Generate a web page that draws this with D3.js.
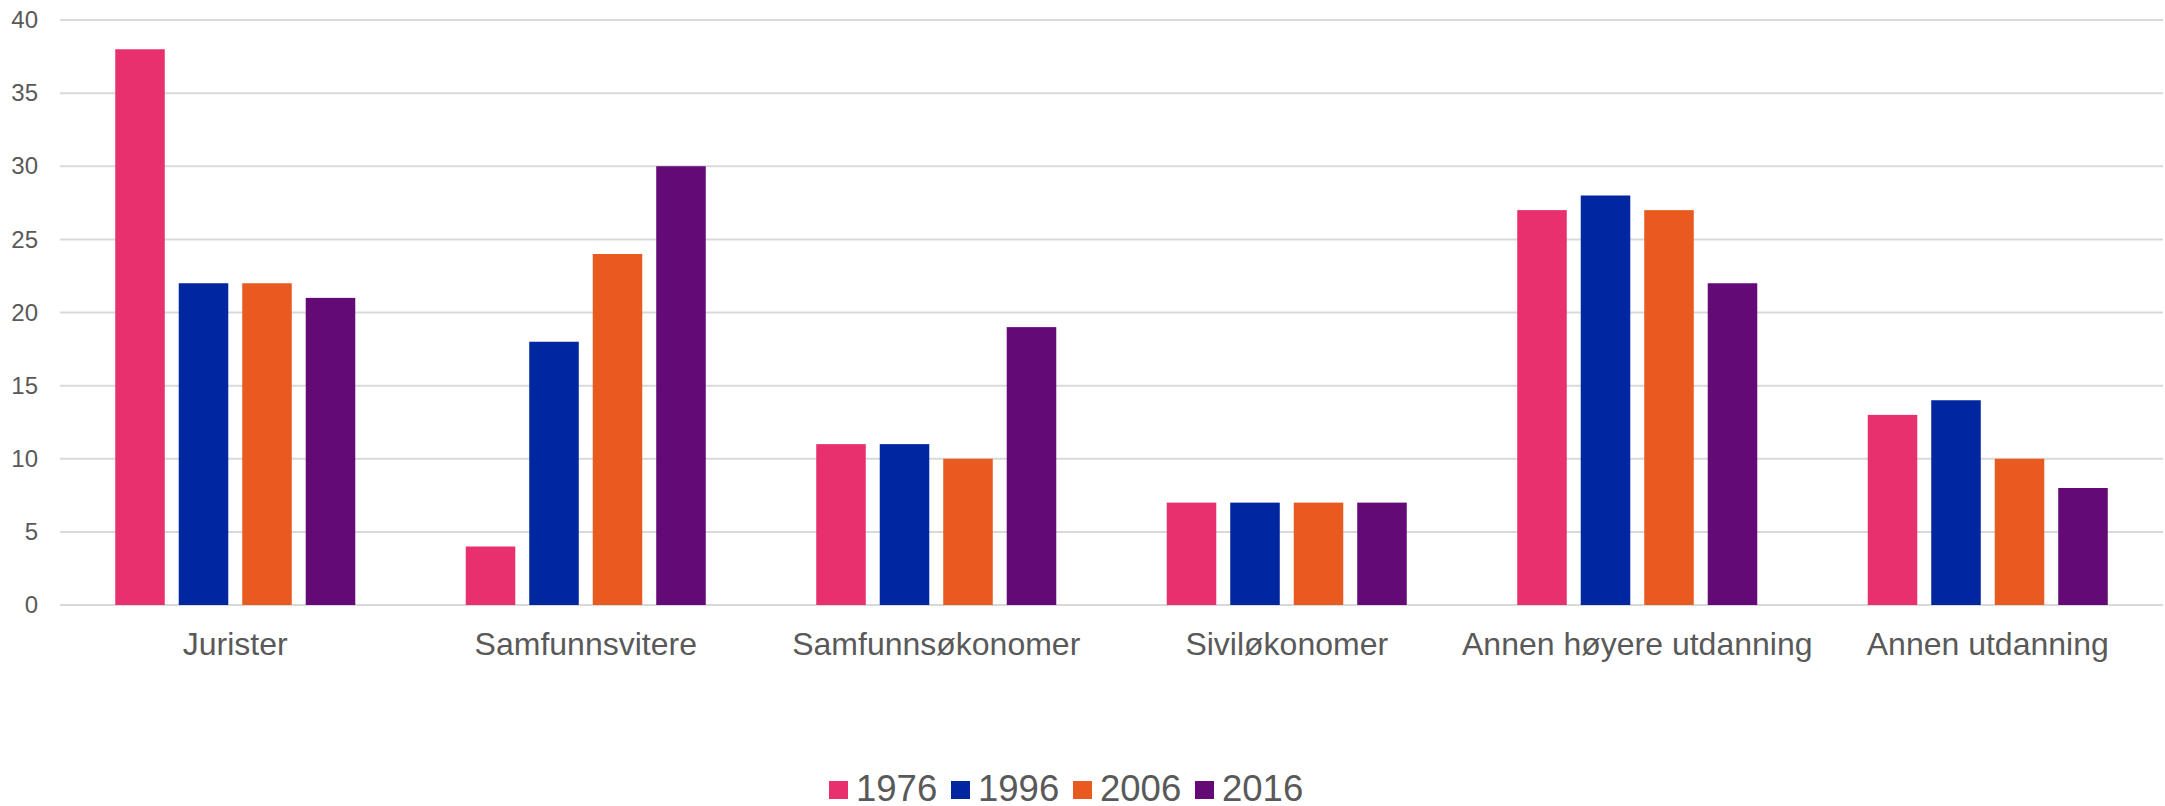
<!DOCTYPE html>
<html>
<head>
<meta charset="utf-8">
<script src="https://cdn.jsdelivr.net/npm/d3@7"></script>
<style>
  body { margin: 0; background: #fff; overflow: hidden; }
  svg { display: block; font-family: "Liberation Sans", Arial, sans-serif; }
</style>
</head>
<body>
<svg id="chart"></svg>
<script>
// Chart data
const categories = ['Jurister', 'Samfunnsvitere', 'Samfunnsøkonomer', 'Siviløkonomer', 'Annen høyere utdanning', 'Annen utdanning'];
const years = ['1976', '1996', '2006', '2016'];
const values1976 = [38, 4, 11, 7, 27, 13];
const values1996 = [22, 18, 11, 7, 28, 14];
const values2006 = [22, 24, 10, 7, 27, 10];
const values2016 = [21, 30, 19, 7, 22, 8];
const yTicks = [0, 5, 10, 15, 20, 25, 30, 35, 40];
const colors = ['#e8306f', '#0026a0', '#e95a20', '#630a76'];

const seriesValues = [values1976, values1996, values2006, values2016];

const width = 2165, height = 806;
const margin = { top: 20, right: 2, bottom: 201, left: 60 };
const innerWidth = width - margin.left - margin.right;
const innerHeight = height - margin.top - margin.bottom;
const textColor = '#595959';
const fontFamily = '"Liberation Sans", Arial, sans-serif';

const svg = d3.select('#chart')
    .attr('width', width)
    .attr('height', height);

const g = svg.append('g')
    .attr('transform', `translate(${margin.left},${margin.top})`);

// Scales
const x0 = d3.scaleBand()
    .domain(categories)
    .range([0, innerWidth])
    .padding(0);

const x1 = d3.scaleBand()
    .domain(years)
    .range([0, x0.bandwidth()])
    .paddingInner(0.22)
    .paddingOuter(0.87);

const y = d3.scaleLinear()
    .domain([0, 40])
    .range([innerHeight, 0]);

// Gridlines
g.append('g')
    .selectAll('line')
    .data(yTicks)
    .join('line')
    .attr('x1', 0)
    .attr('x2', innerWidth)
    .attr('y1', d => y(d))
    .attr('y2', d => y(d))
    .attr('stroke', '#d9d9d9')
    .attr('stroke-width', 2);

// Y axis labels
const yAxis = d3.axisLeft(y).tickValues(yTicks).tickSize(0).tickPadding(22);
g.append('g')
    .call(yAxis)
    .attr('font-family', fontFamily)
    .attr('font-size', 24)
    .call(a => a.select('.domain').remove())
    .selectAll('text')
    .attr('fill', textColor);

// X axis labels
const xAxis = d3.axisBottom(x0).tickSize(0).tickPadding(27);
g.append('g')
    .attr('transform', `translate(0,${innerHeight})`)
    .call(xAxis)
    .attr('font-family', fontFamily)
    .attr('font-size', 32)
    .call(a => a.select('.domain').remove())
    .selectAll('text')
    .attr('fill', textColor);

// Bars
const rows = categories.map((cat, i) => ({
    cat,
    vals: years.map((yr, j) => ({ yr, v: seriesValues[j][i], color: colors[j] }))
}));

g.selectAll('.cat')
    .data(rows)
    .join('g')
    .attr('class', 'cat')
    .attr('transform', d => `translate(${x0(d.cat)},0)`)
    .selectAll('rect')
    .data(d => d.vals)
    .join('rect')
    .attr('x', d => x1(d.yr))
    .attr('y', d => y(d.v))
    .attr('width', x1.bandwidth())
    .attr('height', d => y(0) - y(d.v))
    .attr('fill', d => d.color);

// Legend
const legend = svg.append('g')
    .attr('transform', 'translate(829, 0)');

const legendItems = legend.selectAll('g')
    .data(years)
    .join('g')
    .attr('transform', (d, i) => `translate(${i * 122}, 0)`);

legendItems.append('rect')
    .attr('x', 0)
    .attr('y', 781)
    .attr('width', 19)
    .attr('height', 18)
    .attr('fill', (d, i) => colors[i]);

legendItems.append('text')
    .attr('x', 27)
    .attr('y', 801)
    .attr('fill', textColor)
    .attr('font-size', '36.5px')
    .text(d => d);
</script>
</body>
</html>
